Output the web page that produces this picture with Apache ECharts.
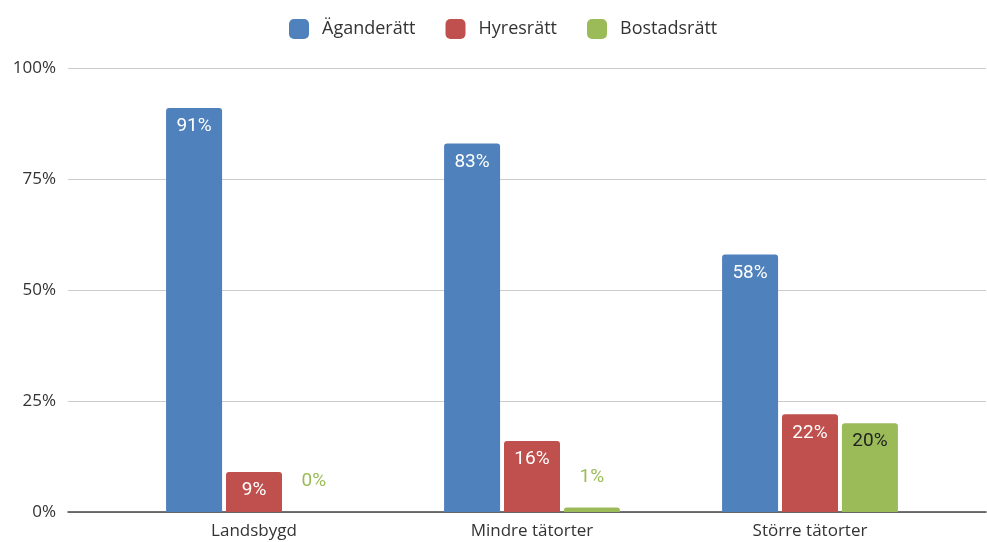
<!DOCTYPE html>
<html>
<head>
<meta charset="utf-8">
<script src="https://cdn.jsdelivr.net/npm/echarts@6/dist/echarts.min.js"></script>
<style>
  html, body { margin: 0; padding: 0; background: #fff; }
  #chart { width: 987px; height: 542px; }
</style>
</head>
<body>
<div id="chart"></div>
<script>
// Boendeform per områdestyp (andel hushåll, %)
const categories = ['Landsbygd', 'Mindre tätorter', 'Större tätorter'];
const seriesNames = ['Äganderätt', 'Hyresrätt', 'Bostadsrätt'];
const aganderatt = [91, 83, 58];
const hyresratt = [9, 16, 22];
const bostadsratt = [0, 1, 20];
const yTicks = [0, 25, 50, 75, 100];

const colors = ['#4F81BD', '#C0504D', '#9BBB59'];
const insideColors = ['#ffffff', '#ffffff', '#222222'];
const baseFont = 'Open Sans, Noto Sans, sans-serif';
const labelFont = 'Roboto, sans-serif';

// Bars too short to hold their label get it above, in the series colour
function makeData(values, idx) {
  return values.map(v => {
    if (v < 5) {
      return {
        value: v,
        label: { position: 'top', distance: 21, color: colors[idx] }
      };
    }
    return { value: v };
  });
}

const valueSets = [aganderatt, hyresratt, bostadsratt];

const chart = echarts.init(document.getElementById('chart'), null, { renderer: 'canvas' });

chart.setOption({
  animation: false,
  color: colors,
  legend: {
    top: 14,
    left: 284,
    itemWidth: 20,
    itemHeight: 20,
    itemGap: 30,
    icon: 'roundRect',
    data: seriesNames,
    textStyle: { fontFamily: baseFont, fontSize: 18, color: '#333', padding: [0, 0, 0, 8] }
  },
  grid: [
    { left: 68, right: 1, top: 68, bottom: 30 },
    { left: 115, right: 38, top: 68, bottom: 30 }
  ],
  xAxis: [
    {
      gridIndex: 0, type: 'value', min: 0, max: 1,
      axisLine: { show: true, lineStyle: { color: '#444', width: 1.5 } },
      axisTick: { show: false }, axisLabel: { show: false }, splitLine: { show: false }
    },
    {
      gridIndex: 1, type: 'category', data: categories,
      axisLine: { show: false }, axisTick: { show: false },
      axisLabel: { fontFamily: baseFont, fontSize: 17, color: '#333', margin: 11 }
    }
  ],
  yAxis: [
    {
      gridIndex: 0, type: 'value', min: 0, max: 100, interval: 25,
      axisLine: { show: false }, axisTick: { show: false },
      axisLabel: {
        fontFamily: baseFont, fontSize: 17, color: '#333', margin: 12,
        formatter: v => yTicks.includes(v) ? v + '%' : ''
      },
      splitLine: { lineStyle: { color: '#cccccc', width: 1 } }
    },
    {
      gridIndex: 1, type: 'value', min: 0, max: 100, interval: 25, show: false,
      splitLine: { show: false }
    }
  ],
  series: seriesNames.map((name, i) => ({
    name: name,
    type: 'bar',
    xAxisIndex: 1,
    yAxisIndex: 1,
    barWidth: 56,
    barGap: '7%',
    itemStyle: { color: colors[i], borderRadius: [3, 3, 0, 0] },
    label: {
      show: true,
      position: 'insideTop',
      distance: 9,
      formatter: '{c}%',
      fontFamily: labelFont,
      fontSize: 19,
      color: insideColors[i]
    },
    data: makeData(valueSets[i], i)
  }))
});
</script>
</body>
</html>
